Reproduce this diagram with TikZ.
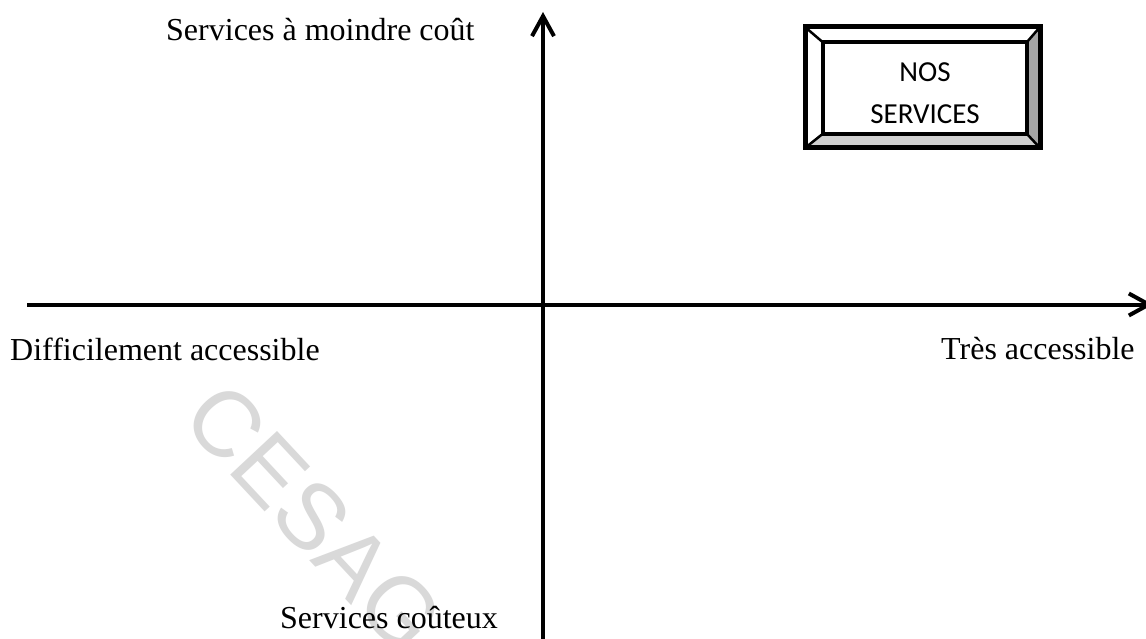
\documentclass[tikz,border=0pt]{standalone}
\usepackage{fontspec}
\setmainfont{Liberation Serif}
\newfontfamily\calibrifont{Carlito}
\newfontfamily\wmfont{Liberation Sans}
\usetikzlibrary{arrows.meta}
\definecolor{wmgray}{HTML}{D9D9D9}
\definecolor{bevdark}{HTML}{A6A6A6}
\definecolor{bevlight}{HTML}{D0D0D0}
\begin{document}
\begin{tikzpicture}[x=1pt,y=-1pt,
  axisline/.style={line width=4pt,-{Straight Barb[length=20pt,width=22pt]}},
  lbl/.style={inner sep=0pt,anchor=base west,font=\fontsize{32}{38}\selectfont},
  boxtext/.style={inner sep=0pt,align=center,font=\calibrifont\fontsize{29}{41.5}\selectfont},
  wm/.style={inner sep=0pt,text=wmgray,rotate=-47,font=\wmfont\fontsize{93}{96}\selectfont},
  bevelline/.style={line width=2.5pt},
  frameline/.style={line width=5pt},
  innerline/.style={line width=4pt}]
\useasboundingbox[fill=white] (0,0) rectangle (1146,639);

% watermark
\node[wm] (wm) at (314,518) {CESAG};

% axes
\coordinate (hstart) at (27,304.5);
\coordinate (hend) at (1153,304.5);
\coordinate (vstart) at (543,645);
\coordinate (vend) at (543,12);
\draw[axisline] (hstart) -- (hend);
\draw[axisline] (vstart) -- (vend);

% labels
\node[lbl] (top) at (166,41) {Services à moindre coût};
\node[lbl] (left) at (10,360) {Difficilement accessible};
\node[lbl] (right) at (941,359) {Très accessible};
\node[lbl] (bottom) at (280,628) {Services coûteux};

% bevel box
\coordinate (o1) at (805,27);
\coordinate (o2) at (1040,27);
\coordinate (o3) at (1040,148);
\coordinate (o4) at (805,148);
\coordinate (i1) at (822.5,42);
\coordinate (i2) at (1027,42);
\coordinate (i3) at (1027,134);
\coordinate (i4) at (822.5,134);
\fill[white] (o1) -- (o2) -- (i2) -- (i1) -- cycle;
\fill[white] (o1) -- (o4) -- (i4) -- (i1) -- cycle;
\fill[bevdark] (o2) -- (o3) -- (i3) -- (i2) -- cycle;
\fill[bevlight] (o4) -- (o3) -- (i3) -- (i4) -- cycle;
\draw[bevelline] (o1) -- (i1) (o2) -- (i2) (o3) -- (i3) (o4) -- (i4);
\draw[innerline] (i1) rectangle (i3);
\draw[frameline] (o1) rectangle (o3);
\node[boxtext] (nos) at (925,93.4) {NOS\\SERVICES};
\end{tikzpicture}
\end{document}
